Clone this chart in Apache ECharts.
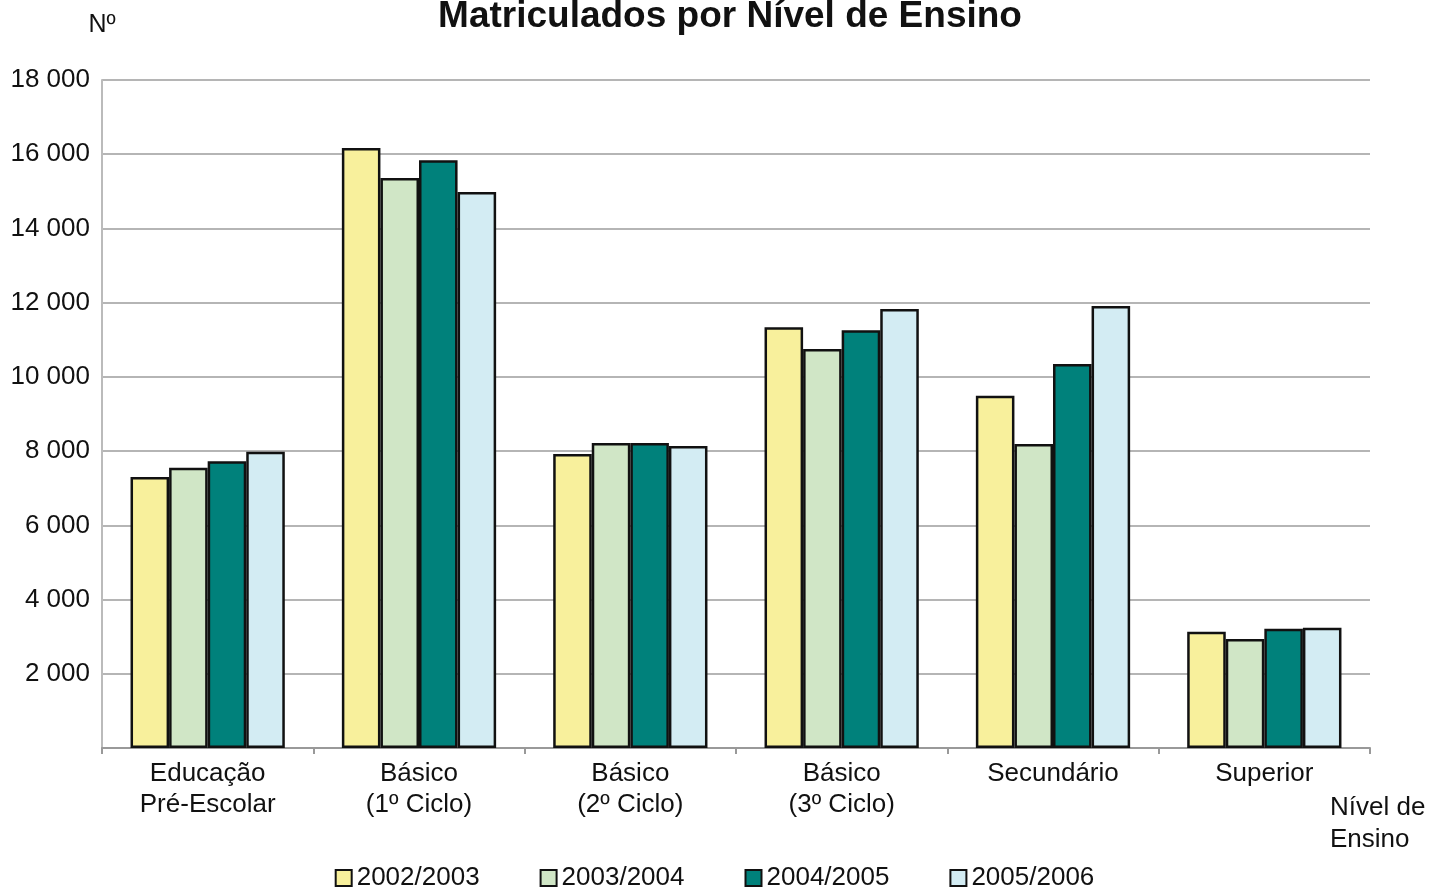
<!DOCTYPE html>
<html>
<head>
<meta charset="utf-8">
<script src="https://cdn.jsdelivr.net/npm/echarts@6/dist/echarts.min.js"></script>
<style>
  html, body { margin: 0; padding: 0; background: #fff; }
  #chart { width: 1429px; height: 887px; }
</style>
</head>
<body>
<div id="chart"></div>
<script>
const categories = ['Educação\nPré-Escolar', 'Básico\n(1º Ciclo)', 'Básico\n(2º Ciclo)', 'Básico\n(3º Ciclo)', 'Secundário', 'Superior']
const years = ['2002/2003', '2003/2004', '2004/2005', '2005/2006']
const y2002 = [7300, 16170, 7920, 11340, 9490, 3130]
const y2003 = [7550, 15360, 8220, 10750, 8190, 2940]
const y2004 = [7730, 15840, 8220, 11260, 10350, 3210]
const y2005 = [7980, 14980, 8140, 11830, 11910, 3240]
const colors = ['#F8F09C', '#D0E6C6', '#00817B', '#D3ECF3']

const chart = echarts.init(document.getElementById('chart'), null, { devicePixelRatio: 1 })

const fmt = v => v === 0 ? '' : String(v).replace(/\B(?=(\d{3})+(?!\d))/g, ' ')

const series = [y2002, y2003, y2004, y2005].map((d, i) => ({
  name: years[i],
  type: 'bar',
  data: d,
  barGap: '0%',
  barCategoryGap: '27%',
  itemStyle: { color: colors[i], borderColor: '#111', borderWidth: 2.5 }
}))

chart.setOption({
  animation: false,
  textStyle: { fontFamily: 'Liberation Sans, Arial, sans-serif' },
  title: {
    text: 'Matriculados por Nível de Ensino',
    left: 725, textAlign: 'center', top: -7,
    textStyle: { fontSize: 37, fontWeight: 'bold', color: '#111' }
  },
  legend: {
    data: years,
    bottom: -9, left: 'center',
    itemWidth: 16, itemHeight: 16, itemGap: 60,
    icon: 'rect',
    itemStyle: { borderColor: '#111', borderWidth: 2 },
    textStyle: { fontSize: 26, color: '#111', padding: [0, 0, 0, 0] }
  },
  grid: { left: 102, right: 59, top: 80, bottom: 139 },
  xAxis: {
    type: 'category',
    data: categories,
    name: 'Nível de\nEnsino',
    nameLocation: 'end',
    nameGap: 0,
    nameTextStyle: { fontSize: 26, color: '#111', align: 'left', verticalAlign: 'top', padding: [44, 0, 0, -40], lineHeight: 32 },
    axisLine: { lineStyle: { color: '#999', width: 2 } },
    axisTick: { show: true, alignWithLabel: false, length: 6, lineStyle: { color: '#999', width: 2 } },
    axisLabel: { fontSize: 26, color: '#111', lineHeight: 31, margin: 10, interval: 0 }
  },
  yAxis: {
    type: 'value',
    min: 0, max: 18000, interval: 2000,
    name: 'Nº',
    nameGap: 42,
    nameTextStyle: { fontSize: 25, color: '#111' },
    axisLine: { show: true, lineStyle: { color: '#bbb', width: 2 } },
    axisTick: { show: false },
    splitLine: { lineStyle: { color: '#b5b5b5', width: 2 } },
    axisLabel: { fontSize: 26, color: '#111', margin: 12, formatter: fmt }
  },
  series
})
</script>
</body>
</html>
